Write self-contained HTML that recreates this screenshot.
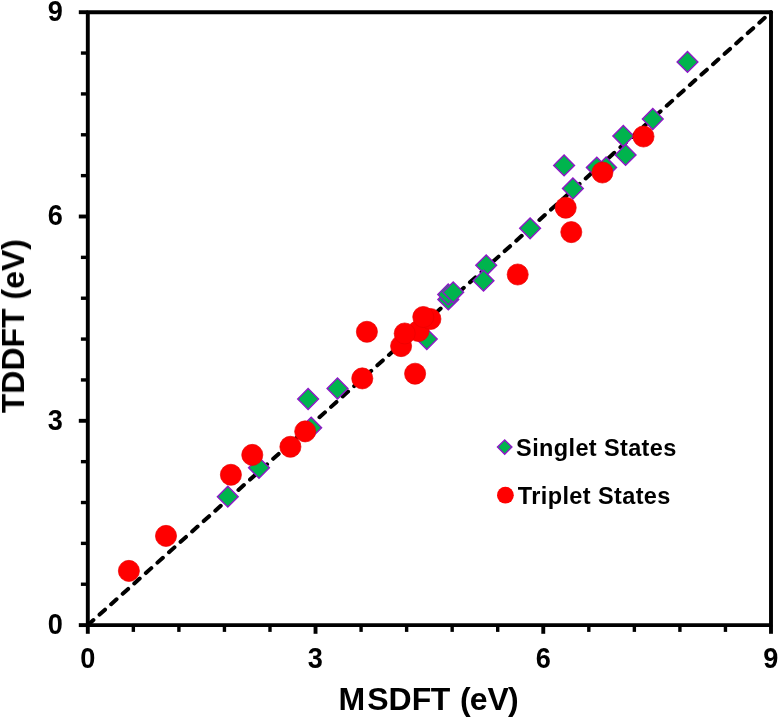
<!DOCTYPE html>
<html><head><meta charset="utf-8"><title>MSDFT vs TDDFT</title>
<style>
html,body{margin:0;padding:0;background:#fff;}
body{width:778px;height:718px;overflow:hidden;font-family:"Liberation Sans",sans-serif;}
svg{display:block}
text{font-family:"Liberation Sans",sans-serif;font-weight:bold;fill:#000}
</style></head><body>
<svg width="778" height="718" viewBox="0 0 778 718">
<rect width="778" height="718" fill="#fff"/>
<defs><filter id="sf" x="0" y="0" width="778" height="718" filterUnits="userSpaceOnUse"><feGaussianBlur stdDeviation="0.45"/></filter></defs>
<g filter="url(#sf)">
<line x1="90.18" y1="622.96" x2="771.0" y2="12.2" stroke="#000" stroke-width="4.0" stroke-dasharray="7.3 8.25" stroke-dashoffset="2.95" stroke-linecap="round"/>
<g stroke="#000" fill="none" stroke-linecap="butt">
<rect x="87.8" y="12.2" width="683.20" height="612.90" stroke-width="3.9" stroke-linejoin="round"/>
<line x1="87.80" y1="625.1" x2="87.80" y2="633.80" stroke-width="3.9"/><line x1="87.8" y1="625.10" x2="78.80" y2="625.10" stroke-width="3.9"/>
<line x1="133.35" y1="625.1" x2="133.35" y2="631.90" stroke-width="3.4"/><line x1="87.8" y1="584.24" x2="80.90" y2="584.24" stroke-width="3.4"/>
<line x1="178.89" y1="625.1" x2="178.89" y2="631.90" stroke-width="3.4"/><line x1="87.8" y1="543.38" x2="80.90" y2="543.38" stroke-width="3.4"/>
<line x1="224.44" y1="625.1" x2="224.44" y2="631.90" stroke-width="3.4"/><line x1="87.8" y1="502.52" x2="80.90" y2="502.52" stroke-width="3.4"/>
<line x1="269.99" y1="625.1" x2="269.99" y2="631.90" stroke-width="3.4"/><line x1="87.8" y1="461.66" x2="80.90" y2="461.66" stroke-width="3.4"/>
<line x1="315.53" y1="625.1" x2="315.53" y2="633.80" stroke-width="3.9"/><line x1="87.8" y1="420.80" x2="78.80" y2="420.80" stroke-width="3.9"/>
<line x1="361.08" y1="625.1" x2="361.08" y2="631.90" stroke-width="3.4"/><line x1="87.8" y1="379.94" x2="80.90" y2="379.94" stroke-width="3.4"/>
<line x1="406.63" y1="625.1" x2="406.63" y2="631.90" stroke-width="3.4"/><line x1="87.8" y1="339.08" x2="80.90" y2="339.08" stroke-width="3.4"/>
<line x1="452.17" y1="625.1" x2="452.17" y2="631.90" stroke-width="3.4"/><line x1="87.8" y1="298.22" x2="80.90" y2="298.22" stroke-width="3.4"/>
<line x1="497.72" y1="625.1" x2="497.72" y2="631.90" stroke-width="3.4"/><line x1="87.8" y1="257.36" x2="80.90" y2="257.36" stroke-width="3.4"/>
<line x1="543.27" y1="625.1" x2="543.27" y2="633.80" stroke-width="3.9"/><line x1="87.8" y1="216.50" x2="78.80" y2="216.50" stroke-width="3.9"/>
<line x1="588.81" y1="625.1" x2="588.81" y2="631.90" stroke-width="3.4"/><line x1="87.8" y1="175.64" x2="80.90" y2="175.64" stroke-width="3.4"/>
<line x1="634.36" y1="625.1" x2="634.36" y2="631.90" stroke-width="3.4"/><line x1="87.8" y1="134.78" x2="80.90" y2="134.78" stroke-width="3.4"/>
<line x1="679.91" y1="625.1" x2="679.91" y2="631.90" stroke-width="3.4"/><line x1="87.8" y1="93.92" x2="80.90" y2="93.92" stroke-width="3.4"/>
<line x1="725.45" y1="625.1" x2="725.45" y2="631.90" stroke-width="3.4"/><line x1="87.8" y1="53.06" x2="80.90" y2="53.06" stroke-width="3.4"/>
<line x1="771.00" y1="625.1" x2="771.00" y2="633.80" stroke-width="3.9"/><line x1="87.8" y1="12.20" x2="78.80" y2="12.20" stroke-width="3.9"/>
</g>
<g fill="#00b44e" stroke="#8f18c8" stroke-width="1.4" stroke-linejoin="miter">
<path d="M217.4 496.7L227.8 486.3L238.2 496.7L227.8 507.1Z"/>
<path d="M248.6 467.8L259.0 457.4L269.4 467.8L259.0 478.2Z"/>
<path d="M300.8 427.7L311.2 417.3L321.6 427.7L311.2 438.1Z"/>
<path d="M297.7 399.0L308.1 388.6L318.5 399.0L308.1 409.4Z"/>
<path d="M327.1 388.5L337.5 378.1L347.9 388.5L337.5 398.9Z"/>
<path d="M416.4 339.1L426.8 328.7L437.2 339.1L426.8 349.5Z"/>
<path d="M437.9 299.4L448.3 289.0L458.7 299.4L448.3 309.8Z"/>
<path d="M437.8 294.4L448.2 284.0L458.6 294.4L448.2 304.8Z"/>
<path d="M442.8 292.3L453.2 281.9L463.6 292.3L453.2 302.7Z"/>
<path d="M475.8 265.3L486.2 254.9L496.6 265.3L486.2 275.7Z"/>
<path d="M473.1 280.7L483.5 270.3L493.9 280.7L483.5 291.1Z"/>
<path d="M519.7 228.3L530.1 217.9L540.5 228.3L530.1 238.7Z"/>
<path d="M562.5 188.5L572.9 178.1L583.3 188.5L572.9 198.9Z"/>
<path d="M553.7 165.4L564.1 155.0L574.5 165.4L564.1 175.8Z"/>
<path d="M586.4 167.6L596.8 157.2L607.2 167.6L596.8 178.0Z"/>
<path d="M595.7 167.5L606.1 157.1L616.5 167.5L606.1 177.9Z"/>
<path d="M615.2 154.9L625.6 144.5L636.0 154.9L625.6 165.3Z"/>
<path d="M612.9 136.0L623.3 125.6L633.7 136.0L623.3 146.4Z"/>
<path d="M642.4 119.0L652.8 108.6L663.2 119.0L652.8 129.4Z"/>
<path d="M677.1 61.9L687.5 51.5L697.9 61.9L687.5 72.3Z"/>
</g>
<g fill="#ff0000" stroke="#ea0000" stroke-width="0.7">
<circle cx="128.9" cy="570.9" r="10.55"/>
<circle cx="166.0" cy="535.9" r="10.55"/>
<circle cx="230.9" cy="474.8" r="10.55"/>
<circle cx="252.3" cy="454.9" r="10.55"/>
<circle cx="290.4" cy="446.8" r="10.55"/>
<circle cx="305.2" cy="431.4" r="10.55"/>
<circle cx="362.3" cy="378.4" r="10.55"/>
<circle cx="366.9" cy="331.8" r="10.55"/>
<circle cx="415.1" cy="373.7" r="10.55"/>
<circle cx="401.1" cy="346.1" r="10.55"/>
<circle cx="418.5" cy="331.0" r="10.55"/>
<circle cx="404.7" cy="333.5" r="10.55"/>
<circle cx="430.4" cy="319.0" r="10.55"/>
<circle cx="423.3" cy="317.0" r="10.55"/>
<circle cx="517.7" cy="274.5" r="10.55"/>
<circle cx="571.3" cy="232.1" r="10.55"/>
<circle cx="565.7" cy="207.7" r="10.55"/>
<circle cx="602.4" cy="172.5" r="10.55"/>
<circle cx="643.5" cy="136.5" r="10.55"/>
</g>
<path d="M497.5 447.1L504.7 439.9L511.9 447.1L504.7 454.3Z" fill="#00b44e" stroke="#8f18c8" stroke-width="1.4"/>
<circle cx="505.4" cy="495.2" r="8.4" fill="#ff0000"/>
<text x="516.1" y="455.9" font-size="23.5" textLength="160.2" lengthAdjust="spacing">Singlet States</text>
<text x="517.8" y="503.6" font-size="23.5" textLength="152.6" lengthAdjust="spacing">Triplet States</text>
<text x="87.7" y="668.0" font-size="29" text-anchor="middle" textLength="15.1" lengthAdjust="spacingAndGlyphs">0</text><text x="62.9" y="634.1" font-size="29" text-anchor="end" textLength="15.1" lengthAdjust="spacingAndGlyphs">0</text>
<text x="315.4" y="668.0" font-size="29" text-anchor="middle" textLength="15.1" lengthAdjust="spacingAndGlyphs">3</text><text x="62.9" y="429.5" font-size="29" text-anchor="end" textLength="15.1" lengthAdjust="spacingAndGlyphs">3</text>
<text x="543.2" y="668.0" font-size="29" text-anchor="middle" textLength="15.1" lengthAdjust="spacingAndGlyphs">6</text><text x="62.9" y="224.6" font-size="29" text-anchor="end" textLength="15.1" lengthAdjust="spacingAndGlyphs">6</text>
<text x="770.9" y="668.0" font-size="29" text-anchor="middle" textLength="15.1" lengthAdjust="spacingAndGlyphs">9</text><text x="62.9" y="21.1" font-size="29" text-anchor="end" textLength="15.1" lengthAdjust="spacingAndGlyphs">9</text>
<text x="338.6 367.2 388.6 411.8 430.8 450.6 459.9 469.8 487.6 508.1" y="710.1" font-size="32">MSDFT (eV)</text>
<text transform="translate(24.0 413.3) rotate(-90)" font-size="32">TDDFT (eV)</text>
</g>
</svg>
</body></html>
